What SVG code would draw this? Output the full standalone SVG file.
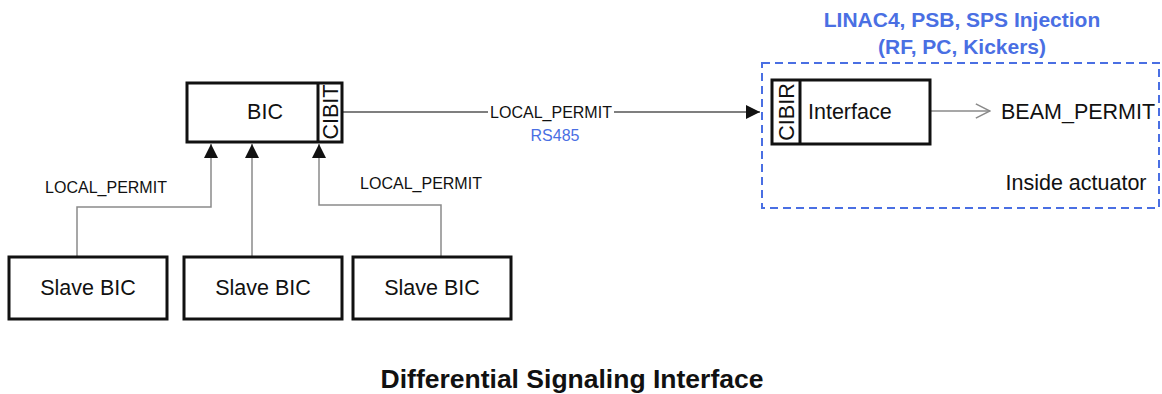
<svg xmlns="http://www.w3.org/2000/svg" width="1162" height="394" viewBox="0 0 1162 394">
<style>
text{font-family:"Liberation Sans",Arial,sans-serif;fill:#111}
.box{fill:#fff;stroke:#111;stroke-width:3}
.lbl{font-size:21.5px}
.small{font-size:16px}
.blue{fill:#4a6fe3}
.conn{fill:none;stroke:#8a8a8a;stroke-width:1.5}
</style>
<defs>
<marker id="tri" viewBox="0 0 10 10" refX="10" refY="5" markerWidth="14" markerHeight="14" markerUnits="userSpaceOnUse" orient="auto">
<path d="M0,0 L10,5 L0,10 z" fill="#111"/>
</marker>
<marker id="open" viewBox="0 0 12 12" refX="11" refY="6" markerWidth="17" markerHeight="17" markerUnits="userSpaceOnUse" orient="auto">
<path d="M1,1 L11,6 L1,11" fill="none" stroke="#8a8a8a" stroke-width="1.1"/>
</marker>
</defs>
<rect width="1162" height="394" fill="#fff"/>

<g id="connectors">
<path class="conn" d="M77,257 V207 H211 V144" marker-end="url(#tri)"/>
<path class="conn" d="M252,257 V144" marker-end="url(#tri)"/>
<path class="conn" d="M441,257 V205 H319 V144" marker-end="url(#tri)"/>
<path d="M342,112 H760" fill="none" stroke="#555" stroke-width="1.5" marker-end="url(#tri)"/>
<path class="conn" d="M930,111 H990" marker-end="url(#open)"/>
<text class="small" x="106" y="193" text-anchor="middle">LOCAL_PERMIT</text>
<text class="small" x="421" y="189" text-anchor="middle">LOCAL_PERMIT</text>
<rect x="488" y="100" width="126" height="22" fill="#fff"/>
<text class="small" x="551" y="118" text-anchor="middle">LOCAL_PERMIT</text>
<text class="small blue" x="555" y="141" text-anchor="middle">RS485</text>
</g>

<g id="actuator">
<rect x="762" y="63" width="397" height="145" fill="none" stroke="#4a6fe3" stroke-width="2" stroke-dasharray="8,5"/>
<text class="blue" x="962" y="27" text-anchor="middle" font-size="21" font-weight="bold">LINAC4, PSB, SPS Injection</text>
<text class="blue" x="962" y="54" text-anchor="middle" font-size="21" font-weight="bold">(RF, PC, Kickers)</text>
<text class="lbl" x="1076" y="190" text-anchor="middle">Inside actuator</text>
</g>

<g id="bic">
<rect class="box" x="187" y="83" width="155" height="59"/>
<line x1="318" y1="83" x2="318" y2="142" stroke="#111" stroke-width="3"/>
<text class="lbl" x="265" y="119" text-anchor="middle">BIC</text>
<text class="lbl" transform="translate(337.5,112) rotate(-90)" text-anchor="middle">CIBIT</text>
</g>

<g id="interface">
<rect class="box" x="772" y="80" width="158" height="64"/>
<line x1="800" y1="80" x2="800" y2="144" stroke="#111" stroke-width="3"/>
<text class="lbl" x="808" y="119">Interface</text>
<text class="lbl" transform="translate(793.5,112) rotate(-90)" text-anchor="middle">CIBIR</text>
</g>

<g id="beam_permit">
<text class="lbl" x="1001" y="119">BEAM_PERMIT</text>
</g>

<g id="slave1">
<rect class="box" x="9" y="257" width="158" height="62"/>
<text class="lbl" x="88" y="295" text-anchor="middle">Slave BIC</text>
</g>
<g id="slave2">
<rect class="box" x="184" y="257" width="158" height="62"/>
<text class="lbl" x="263" y="295" text-anchor="middle">Slave BIC</text>
</g>
<g id="slave3">
<rect class="box" x="353" y="257" width="158" height="62"/>
<text class="lbl" x="432" y="295" text-anchor="middle">Slave BIC</text>
</g>

<g id="title">
<text x="572" y="388" text-anchor="middle" font-size="26.5" font-weight="bold">Differential Signaling Interface</text>
</g>
</svg>
